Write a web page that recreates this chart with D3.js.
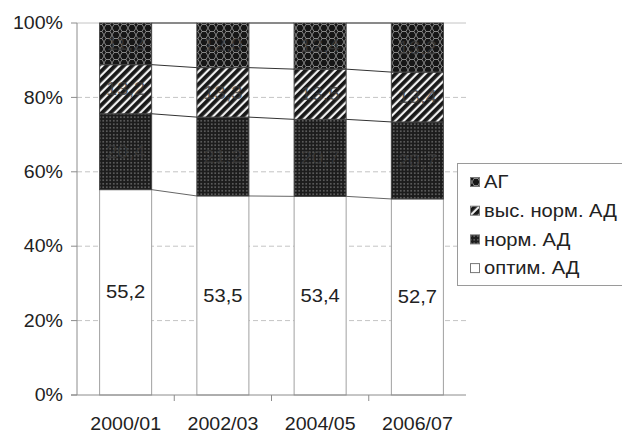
<!DOCTYPE html>
<html>
<head>
<meta charset="utf-8">
<script src="https://cdn.jsdelivr.net/npm/d3@7"></script>
<style>
  html, body { margin: 0; padding: 0; background: #fff; }
  svg { display: block; }
  text { font-family: "Liberation Sans", Arial, Helvetica, sans-serif; fill: #222; }
</style>
</head>
<body>
<svg id="chart" width="622" height="437"></svg>
<script>
// Blood-pressure categories by survey period (shares, %)
const categories = ["2000/01", "2002/03", "2004/05", "2006/07"];
const seriesNames = ["оптим. АД", "норм. АД", "выс. норм. АД", "АГ"];
const optimal = [55.2, 53.5, 53.4, 52.7];
const normal = [20.4, 21.2, 20.7, 20.7];
const highNormal = [13.2, 13.3, 13.5, 13.4];
const hypertension = [11.2, 12.0, 12.4, 13.2];
const yTicks = [0, 20, 40, 60, 80, 100];
const legendOrder = ["АГ", "выс. норм. АД", "норм. АД", "оптим. АД"];

const rows = categories.map((c, i) => ({
  cat: c,
  "оптим. АД": optimal[i],
  "норм. АД": normal[i],
  "выс. норм. АД": highNormal[i],
  "АГ": hypertension[i]
}));

const svg = d3.select("#chart");
const plot = { left: 77, right: 466, top: 23, bottom: 395 };
const TX = 1.12; // horizontal stretch for text

// ---- fill patterns ----
const defs = svg.append("defs");
// dots on dark
const pDots = defs.append("pattern").attr("id", "pat-norm")
  .attr("patternUnits", "userSpaceOnUse").attr("width", 3.5).attr("height", 3.5);
pDots.append("rect").attr("width", 3.5).attr("height", 3.5).attr("fill", "#1c1c1c");
pDots.append("circle").attr("cx", 1.75).attr("cy", 1.75).attr("r", 0.7).attr("fill", "#a8a8a8");

// diagonal stripes
const pDiag = defs.append("pattern").attr("id", "pat-high")
  .attr("patternUnits", "userSpaceOnUse").attr("width", 6).attr("height", 6)
  .attr("patternTransform", "rotate(45)");
pDiag.append("rect").attr("width", 6).attr("height", 6).attr("fill", "#f0f0f0");
pDiag.append("rect").attr("width", 3.8).attr("height", 6).attr("fill", "#181818");

// dark lattice
const pLat = defs.append("pattern").attr("id", "pat-ag")
  .attr("patternUnits", "userSpaceOnUse").attr("width", 8).attr("height", 7);
pLat.append("rect").attr("width", 8).attr("height", 7).attr("fill", "#161616");
pLat.append("path")
  .attr("d", "M0,0 L2,3.5 L0,7 M8,0 L6,3.5 L8,7 M2,3.5 L6,3.5")
  .attr("stroke", "#a0a0a0").attr("stroke-width", 0.8).attr("fill", "none");

const fills = {
  "оптим. АД": "#ffffff",
  "норм. АД": "url(#pat-norm)",
  "выс. норм. АД": "url(#pat-high)",
  "АГ": "url(#pat-ag)"
};

// ---- scales ----
const x = d3.scaleBand().domain(categories)
  .range([plot.left, plot.right]).paddingInner(0.465).paddingOuter(0.2325);
const y = d3.scaleLinear().domain([0, 100]).range([plot.bottom, plot.top]);

const stack = d3.stack().keys(seriesNames)(rows);

// ---- gridlines ----
svg.append("g").selectAll("line").data(yTicks.filter(t => t > 0)).join("line")
  .attr("x1", plot.left).attr("x2", plot.right)
  .attr("y1", d => y(d)).attr("y2", d => y(d))
  .attr("stroke", "#c4c4c4").attr("stroke-width", 1)
  .attr("stroke-dasharray", d => d === 100 ? null : "5,3");

// ---- series connector lines between bars ----
const bw = x.bandwidth();
const conn = svg.append("g");
stack.forEach(layer => {
  for (let i = 0; i < layer.length - 1; i++) {
    conn.append("line")
      .attr("x1", x(categories[i]) + bw).attr("y1", y(layer[i][1]))
      .attr("x2", x(categories[i + 1])).attr("y2", y(layer[i + 1][1]))
      .attr("stroke", layer.key === "оптим. АД" ? "#666" : "#333")
      .attr("stroke-width", 1);
  }
});

// ---- bars ----
const barG = svg.append("g");
stack.forEach(layer => {
  barG.append("g").selectAll("rect").data(layer).join("rect")
    .attr("x", d => x(d.data.cat))
    .attr("width", bw)
    .attr("y", d => y(d[1]))
    .attr("height", d => y(d[0]) - y(d[1]))
    .attr("fill", fills[layer.key])
    .attr("stroke", layer.key === "оптим. АД" ? "#a0a0a0" : "#444")
    .attr("stroke-width", 1);
});

// ---- value labels ----
const fmt = v => d3.format(".1f")(v).replace(".", ",");
const lab = svg.append("g");
stack.forEach(layer => {
  const light = layer.key === "оптим. АД";
  layer.forEach(d => {
    const cx = x(d.data.cat) + bw / 2;
    const cy = (y(d[0]) + y(d[1])) / 2;
    lab.append("text")
      .attr("transform", `translate(${cx},${cy}) scale(${TX},1)`)
      .attr("text-anchor", "middle").attr("dominant-baseline", "central")
      .style("font-size", "18px")
      .style("fill", light ? "#222" : "#3a3a3a")
      .style("opacity", light ? 1 : 0.8)
      .text(fmt(d[1] - d[0]));
  });
});

// ---- axes ----
const axisColor = "#8c8c8c";
svg.append("line").attr("x1", plot.left).attr("x2", plot.left)
  .attr("y1", plot.top).attr("y2", plot.bottom).attr("stroke", axisColor);
svg.append("line").attr("x1", plot.left - 6).attr("x2", plot.right)
  .attr("y1", plot.bottom).attr("y2", plot.bottom).attr("stroke", axisColor);

const yAx = svg.append("g");
yTicks.forEach(t => {
  yAx.append("line").attr("x1", plot.left - 6).attr("x2", plot.left)
    .attr("y1", y(t)).attr("y2", y(t)).attr("stroke", axisColor);
  yAx.append("text")
    .attr("transform", `translate(${plot.left - 14},${y(t)}) scale(${TX},1)`)
    .attr("text-anchor", "end").attr("dominant-baseline", "central")
    .style("font-size", "17.5px")
    .text(t + "%");
});

// category ticks at band boundaries
const xAx = svg.append("g");
categories.slice(1).forEach(c => {
  const bx = x(c) - x.step() * x.paddingInner() / 2;
  xAx.append("line").attr("x1", bx).attr("x2", bx)
    .attr("y1", plot.bottom).attr("y2", plot.bottom + 6).attr("stroke", axisColor);
});
categories.forEach(c => {
  xAx.append("text")
    .attr("transform", `translate(${x(c) + bw / 2},${plot.bottom + 29}) scale(${TX},1)`)
    .attr("text-anchor", "middle").attr("dominant-baseline", "central")
    .style("font-size", "17.5px")
    .text(c);
});

// ---- legend ----
const lg = svg.append("g");
lg.append("rect").attr("x", 457.5).attr("y", 163.5).attr("width", 180).attr("height", 122)
  .attr("fill", "#fff").attr("stroke", "#9a9a9a");
legendOrder.forEach((name, i) => {
  const ly = 182 + i * 28.7;
  lg.append("rect").attr("x", 470.5).attr("y", ly - 4.5).attr("width", 9).attr("height", 9)
    .attr("fill", fills[name]).attr("stroke", "#777");
  lg.append("text")
    .attr("transform", `translate(${484},${ly}) scale(${TX},1)`)
    .attr("dominant-baseline", "central")
    .style("font-size", "18px")
    .text(name);
});
</script>
</body>
</html>
